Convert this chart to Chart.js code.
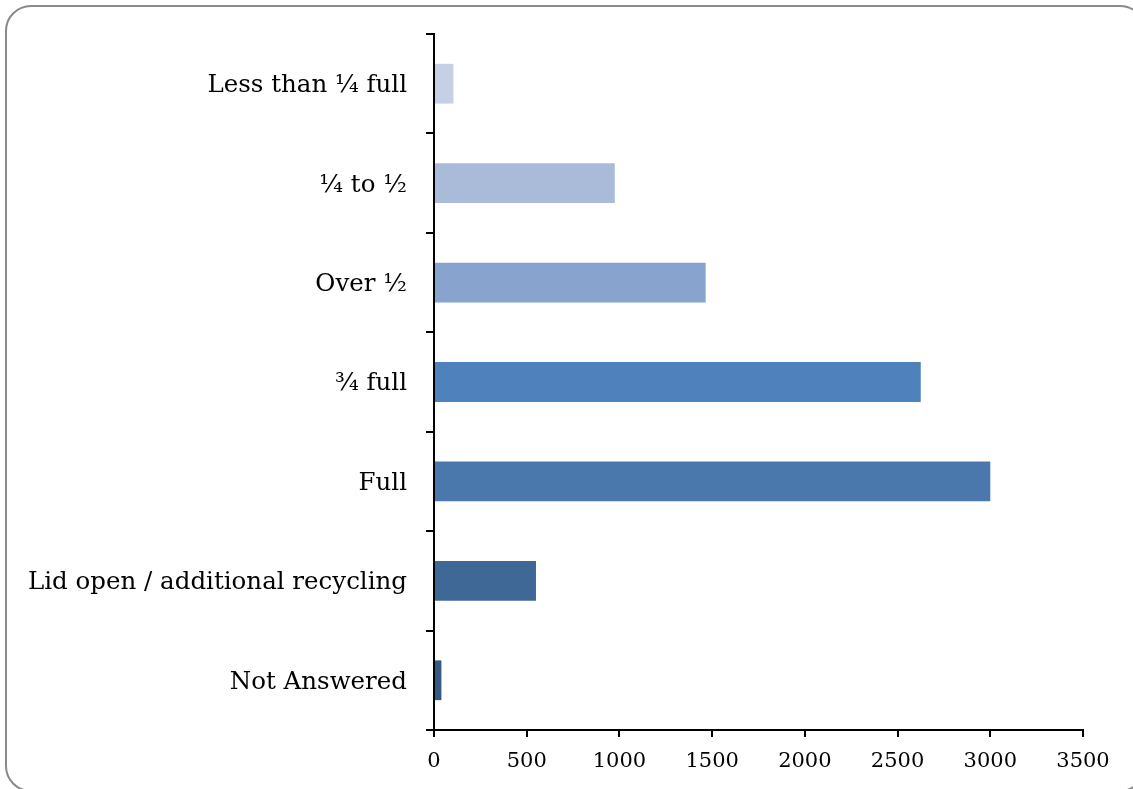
<!DOCTYPE html>
<html>
<head>
<meta charset="utf-8">
<script src="https://cdn.jsdelivr.net/npm/chart.js@4"></script>
<style>
  html, body { margin: 0; padding: 0; background: #fff; overflow: hidden; }
  #wrap { position: relative; width: 1133px; height: 789px; }
  #frame { position: absolute; left: 5px; top: 5px; width: 1141px; height: 787px;
           border: 2px solid #8a8a8a; border-radius: 26px; box-sizing: border-box; }
  canvas { position: absolute; left: 0; top: 0; }
</style>
</head>
<body>
<div id="wrap">
  <div id="frame"></div>
  <canvas id="c" width="1133" height="789"></canvas>
</div>
<script>
const categories = ["Less than ¼ full", "¼ to ½", "Over ½", "¾ full", "Full", "Lid open / additional recycling", "Not Answered"];
const values = [105, 975, 1465, 2625, 3000, 550, 40];
const barColors = ["#c5d0e4", "#aabbd9", "#88a3cd", "#4f81bd", "#4a77ac", "#3f6897", "#375a85"];
const xTicks = [0, 500, 1000, 1500, 2000, 2500, 3000, 3500];

const FAMILY = "'DejaVu Serif', serif";

new Chart(document.getElementById('c'), {
  type: 'bar',
  data: {
    labels: categories,
    datasets: [{
      data: values,
      backgroundColor: barColors,
      borderWidth: 0,
      categoryPercentage: 1,
      barPercentage: 0.4
    }]
  },
  options: {
    indexAxis: 'y',
    responsive: false,
    animation: false,
    layout: { padding: { top: 34, right: 50, left: 0, bottom: 9 } },
    plugins: { legend: { display: false }, tooltip: { enabled: false } },
    scales: {
      x: {
        min: 0, max: 3500,
        afterBuildTicks: (s) => { s.ticks = xTicks.map(v => ({ value: v })); },
        afterFit: (s) => { s.height = 50; },
        border: { display: true, color: '#000', width: 2 },
        grid: { display: true, drawOnChartArea: false, color: '#000', lineWidth: 2, tickLength: 7, offset: false },
        ticks: { color: '#000', font: { family: FAMILY, size: 21 }, padding: 12, maxRotation: 0,
                 callback: (v) => String(v) }
      },
      y: {
        afterFit: (s) => { s.width = 434; },
        border: { display: true, color: '#000', width: 2 },
        grid: { display: true, drawOnChartArea: false, color: '#000', lineWidth: 2, tickLength: 8, offset: true },
        ticks: { color: '#000', font: { family: FAMILY, size: 24.5 }, padding: 19, labelOffset: 2 }
      }
    }
  }
});
</script>
</body>
</html>
